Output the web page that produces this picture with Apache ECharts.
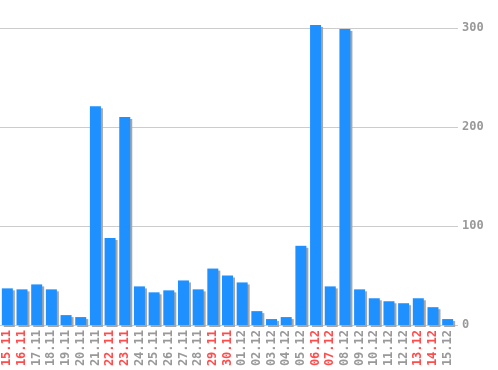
<!DOCTYPE html>
<html><head><meta charset="utf-8">
<script src="https://cdn.jsdelivr.net/npm/echarts@6/dist/echarts.min.js"></script>
<style>html,body{margin:0;padding:0;background:#fff}#c{width:498px;height:370px}</style>
</head><body><div id="c"></div>
<script>
var categories = ["15.11","16.11","17.11","18.11","19.11","20.11","21.11","22.11","23.11","24.11","25.11","26.11","27.11","28.11","29.11","30.11","01.12","02.12","03.12","04.12","05.12","06.12","07.12","08.12","09.12","10.12","11.12","12.12","13.12","14.12","15.12"];
var values = [37,36,41,36,10,8,221,88,210,39,33,35,45,36,57,50,43,14,6,8,80,303,39,299,36,27,24,22,27,18,6];
var weekendLabels = ["15.11","16.11","22.11","23.11","29.11","30.11","06.12","07.12","13.12","14.12"];
var yTicks = [0,100,200,300];

var chart = echarts.init(document.getElementById('c'));
chart.setOption({
  animation: false,
  grid: {left: -2, right: 43, top: 28, bottom: 45, containLabel: false},
  xAxis: {
    type: 'category', data: categories,
    axisLine: {show: false}, axisTick: {show: false},
    axisLabel: {
      rotate: 90, margin: 5, interval: 0,
      fontFamily: 'DejaVu Sans Mono', fontSize: 12, fontWeight: 'bold',
      formatter: function (v) { return weekendLabels.indexOf(v) >= 0 ? '{r|' + v + '}' : '{g|' + v + '}'; },
      rich: {
        r: {color: '#ff4d4d', fontFamily: 'DejaVu Sans Mono', fontSize: 12, fontWeight: 'bold'},
        g: {color: '#999999', fontFamily: 'DejaVu Sans Mono', fontSize: 12, fontWeight: 'bold'}
      }
    }
  },
  yAxis: {
    type: 'value', position: 'right', min: yTicks[0], max: yTicks[yTicks.length-1], interval: 100,
    axisLine: {show: false},
    axisTick: {show: true, length: 3, lineStyle: {color: '#cccccc'}},
    splitLine: {lineStyle: {color: '#cccccc', width: 1}},
    axisLabel: {margin: 7, color: '#999999', fontFamily: 'DejaVu Sans Mono', fontSize: 12, fontWeight: 'bold'}
  },
  series: [{
    type: 'bar', data: values, barWidth: 11, clip: false,
    itemStyle: {color: '#1e90ff', shadowColor: '#a6a6a6', shadowOffsetX: 2, shadowOffsetY: 2, shadowBlur: 0}
  }]
});
</script></body></html>
